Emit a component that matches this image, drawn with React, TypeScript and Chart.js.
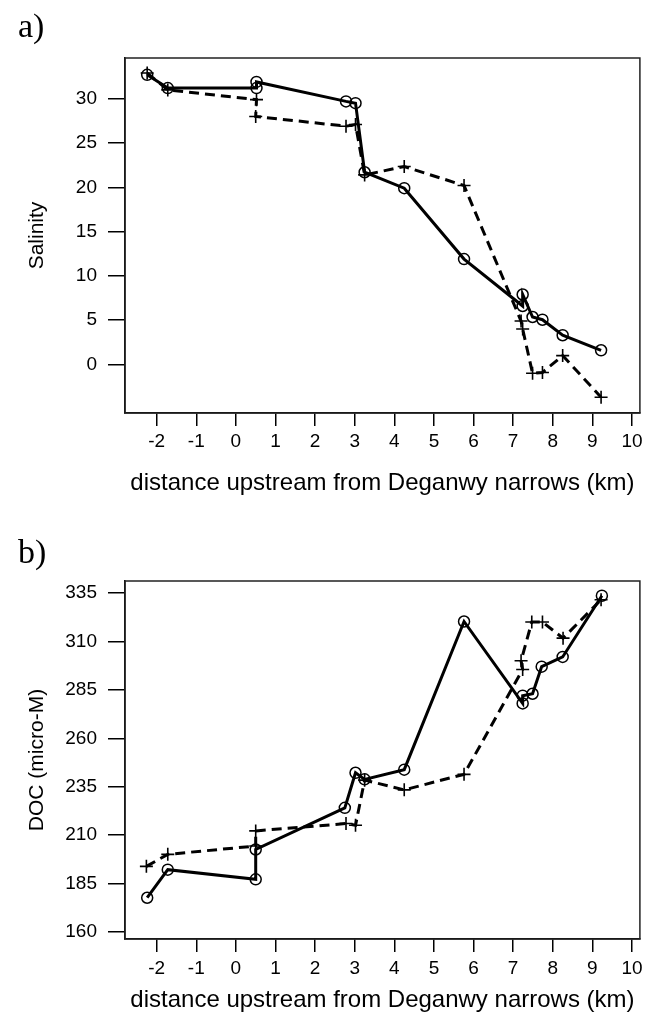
import React, { useEffect, useRef } from "react";
import { Chart, registerables } from "chart.js";

Chart.register(...registerables);

// ---------- data ----------
const xTickValues = [-2, -1, 0, 1, 2, 3, 4, 5, 6, 7, 8, 9, 10];
const salinityTicks = [0, 5, 10, 15, 20, 25, 30];
const docTicks = [160, 185, 210, 235, 260, 285, 310, 335];

// panel a) salinity — solid line with open circles
const salSolidX = [-2.24, -1.72, 0.52, 0.52, 2.78, 3.02, 3.25, 4.25, 5.76, 7.24, 7.24, 7.49, 7.74, 8.25, 9.22];
const salSolidY = [32.7, 31.2, 31.2, 31.9, 29.7, 29.5, 21.7, 19.9, 11.9, 6.6, 7.9, 5.36, 5.05, 3.3, 1.6];
// panel a) salinity — dashed line with crosses
const salDashX = [-2.24, -1.72, 0.52, 0.5, 2.78, 3.02, 3.25, 4.25, 5.76, 7.2, 7.24, 7.49, 7.74, 8.25, 9.22];
const salDashY = [32.9, 31.0, 29.9, 28.0, 26.9, 27.1, 21.4, 22.35, 20.2, 4.9, 4.0, -1.0, -0.9, 1.0, -3.7];

// panel b) DOC — solid line with open circles
const docSolidX = [-2.24, -1.72, 0.5, 0.5, 2.75, 3.02, 3.25, 4.25, 5.76, 7.24, 7.24, 7.49, 7.72, 8.25, 9.24];
const docSolidY = [177.7, 192.2, 187.2, 202.6, 224.1, 242.2, 238.8, 243.8, 320.3, 278, 282, 283, 297, 302, 333.6];
// panel b) DOC — dashed line with crosses
const docDashX = [-2.26, -1.72, 0.5, 0.5, 2.78, 3.02, 3.25, 4.25, 5.76, 7.24, 7.2, 7.47, 7.74, 8.26, 9.22];
const docDashY = [193.9, 200.1, 204.4, 212.2, 216, 215.1, 238.4, 233.4, 241.4, 295.5, 300, 320, 320, 311.7, 331.5];

const xLabel = "distance upstream from Deganwy narrows (km)";

// ---------- helpers ----------
const pts = (xs: number[], ys: number[]) => xs.map((x, i) => ({ x, y: ys[i] }));
const SANS = "'Liberation Sans', Arial, sans-serif";

type PanelCfg = {
  letter: string;
  letterY: number;
  solid: { x: number; y: number }[];
  dashed: { x: number; y: number }[];
  yTicks: number[];
  yMin: number;
  yMax: number;
  yTitle: string;
  padTop: number;
  xHeight: number;
  xTitlePad: number;
  xTickPad: number;
};

function makeChart(canvas: HTMLCanvasElement, p: PanelCfg) {
  const boxPlugin = {
    id: "boxAndLetter",
    afterDraw(chart: any) {
      const { ctx, chartArea } = chart;
      ctx.save();
      ctx.strokeStyle = "#222";
      ctx.lineWidth = 1.5;
      ctx.strokeRect(chartArea.left, chartArea.top, chartArea.right - chartArea.left, chartArea.bottom - chartArea.top);
      ctx.fillStyle = "#000";
      ctx.font = "34px 'Liberation Serif', 'Times New Roman', serif";
      ctx.textAlign = "left";
      ctx.textBaseline = "alphabetic";
      ctx.fillText(p.letter, 18, p.letterY);
      ctx.restore();
    },
  };

  return new Chart(canvas, {
    type: "scatter",
    data: {
      datasets: [
        {
          data: p.solid,
          showLine: true,
          borderColor: "#000",
          borderWidth: 3,
          pointStyle: "circle",
          pointRadius: 5.5,
          pointBorderWidth: 1.5,
          pointBorderColor: "#000",
          pointBackgroundColor: "rgba(0,0,0,0)",
          tension: 0,
        },
        {
          data: p.dashed,
          showLine: true,
          borderColor: "#000",
          borderWidth: 3,
          borderDash: [10, 6],
          pointStyle: "cross",
          pointRadius: 6.5,
          pointBorderWidth: 1.6,
          pointBorderColor: "#000",
          pointBackgroundColor: "#000",
          tension: 0,
        },
      ],
    },
    options: {
      animation: false,
      responsive: false,
      devicePixelRatio: 1,
      layout: { padding: { top: p.padTop, right: 4, left: 0, bottom: 0 } },
      plugins: { legend: { display: false }, tooltip: { enabled: false } },
      scales: {
        x: {
          type: "linear",
          min: -2.8,
          max: 10.2,
          afterBuildTicks: (s: any) => {
            s.ticks = xTickValues.map((v) => ({ value: v }));
          },
          afterFit: (s: any) => {
            s.height = p.xHeight;
            s.paddingLeft = 0;
            s.paddingRight = 0;
          },
          ticks: {
            autoSkip: false,
            maxRotation: 0,
            color: "#000",
            padding: p.xTickPad,
            font: { family: SANS, size: 19 },
            callback: (v: any) => String(v),
          },
          grid: { drawOnChartArea: false, drawTicks: true, tickLength: 13, color: "#000", lineWidth: 1.5 },
          border: { display: true, color: "#000", width: 1.5 },
          title: {
            display: true,
            text: xLabel,
            color: "#000",
            font: { family: SANS, size: 24 },
            padding: { top: 0, bottom: p.xTitlePad },
          },
        },
        y: {
          type: "linear",
          min: p.yMin,
          max: p.yMax,
          afterBuildTicks: (s: any) => {
            s.ticks = p.yTicks.map((v) => ({ value: v }));
          },
          afterFit: (s: any) => {
            s.width = 125;
            s.paddingTop = 0;
            s.paddingBottom = 0;
          },
          ticks: {
            autoSkip: false,
            color: "#000",
            padding: 11,
            font: { family: SANS, size: 19 },
            callback: (v: any) => String(v),
          },
          grid: { drawOnChartArea: false, drawTicks: true, tickLength: 17, color: "#000", lineWidth: 1.5 },
          border: { display: true, color: "#000", width: 1.5 },
          title: {
            display: true,
            text: p.yTitle,
            color: "#000",
            font: { family: SANS, size: 21 },
            padding: { top: 25, bottom: 0 },
          },
        },
      },
    },
    plugins: [boxPlugin],
  } as any);
}

export default function App() {
  const refA = useRef<HTMLCanvasElement>(null);
  const refB = useRef<HTMLCanvasElement>(null);

  useEffect(() => {
    const a = makeChart(refA.current!, {
      letter: "a)",
      letterY: 37,
      solid: pts(salSolidX, salSolidY),
      dashed: pts(salDashX, salDashY),
      yTicks: salinityTicks,
      yMin: -5.48,
      yMax: 34.6,
      yTitle: "Salinity",
      padTop: 58,
      xHeight: 507 - 413,
      xTitlePad: 9,
      xTickPad: 4,
    });
    const b = makeChart(refB.current!, {
      letter: "b)",
      letterY: 563 - 507,
      solid: pts(docSolidX, docSolidY),
      dashed: pts(docDashX, docDashY),
      yTicks: docTicks,
      yMin: 156.4,
      yMax: 341.2,
      yTitle: "DOC (micro-M)",
      padTop: 581 - 507,
      xHeight: 508 - (939 - 507),
      xTitlePad: 0,
      xTickPad: 5,
    });
    return () => {
      a.destroy();
      b.destroy();
    };
  }, []);

  return (
    <div style={{ position: "absolute", left: 0, top: 0, width: 648, height: 1015, background: "#fff" }}>
      <canvas ref={refA} width={648} height={507} style={{ position: "absolute", left: 0, top: 0, width: 648, height: 507 }} />
      <canvas ref={refB} width={648} height={508} style={{ position: "absolute", left: 0, top: 507, width: 648, height: 508 }} />
    </div>
  );
}
